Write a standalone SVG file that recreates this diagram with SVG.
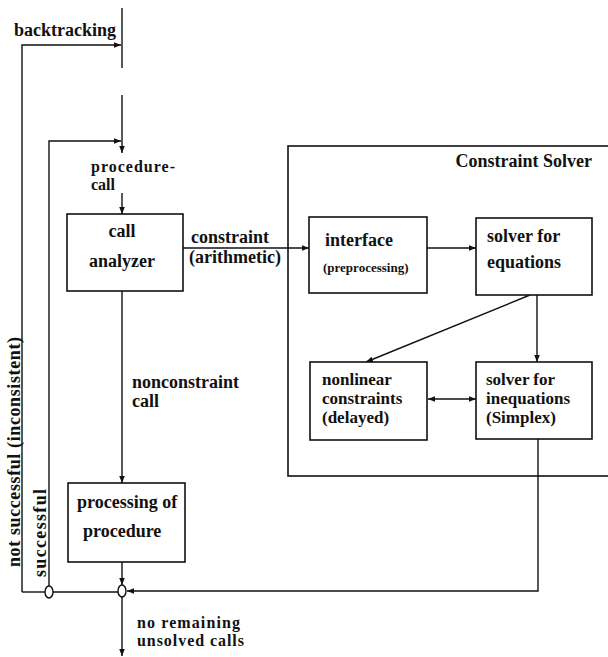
<svg xmlns="http://www.w3.org/2000/svg" width="608" height="657" viewBox="0 0 608 657">
<style>
  text { font-family: "Liberation Serif", "Times New Roman", serif; font-weight: bold; font-size: 18px; fill: #111; }
  .small { font-size: 13px; }
  .tight { font-size: 17px; }
  .tighter { font-size: 16px; }
  .box { fill: #fff; stroke: #111; stroke-width: 1.6; }
  .ln { fill: none; stroke: #111; stroke-width: 1.4; }
  .junc { fill: #fff; stroke: #111; stroke-width: 1.4; }
</style>
<defs>
  <marker id="ah" viewBox="0 0 10 10" refX="10" refY="5" markerWidth="7" markerHeight="7" markerUnits="userSpaceOnUse" orient="auto-start-reverse">
    <path d="M0,1 L10,5 L0,9 Z" fill="#111"/>
  </marker>
</defs>
<rect width="608" height="657" fill="#fff"/>

<g id="constraint-solver">
  <rect class="box" x="288" y="146" width="330" height="330"/>
  <text x="592" y="167" text-anchor="end">Constraint Solver</text>
</g>

<g id="connectors">
  <line class="ln" x1="122" y1="8" x2="122" y2="68"/>
  <polyline class="ln" points="22,592 22,45 121,45" marker-end="url(#ah)"/>
  <line class="ln" x1="122" y1="95" x2="122" y2="153" marker-end="url(#ah)"/>
  <polyline class="ln" points="49,586 49,141 121,141" marker-end="url(#ah)"/>
  <line class="ln" x1="122" y1="193" x2="122" y2="214" marker-end="url(#ah)"/>
  <line class="ln" x1="122" y1="291" x2="122" y2="483" marker-end="url(#ah)"/>
  <line class="ln" x1="183" y1="248" x2="309" y2="248" marker-end="url(#ah)"/>
  <line class="ln" x1="427" y1="248" x2="476" y2="248" marker-end="url(#ah)"/>
  <line class="ln" x1="530" y1="295" x2="366" y2="362" marker-end="url(#ah)"/>
  <line class="ln" x1="537" y1="295" x2="537" y2="362" marker-end="url(#ah)"/>
  <line class="ln" x1="428" y1="399" x2="476" y2="399" marker-start="url(#ah)" marker-end="url(#ah)"/>
  <polyline class="ln" points="538,439 538,591 127,591" marker-end="url(#ah)"/>
  <line class="ln" x1="122" y1="562" x2="122" y2="585" marker-end="url(#ah)"/>
  <line class="ln" x1="122" y1="597" x2="122" y2="656" marker-end="url(#ah)"/>
  <line class="ln" x1="22" y1="592" x2="45" y2="592"/>
  <line class="ln" x1="53" y1="592" x2="118" y2="592"/>
</g>

<g id="junction-left"><ellipse class="junc" cx="49" cy="592" rx="4" ry="6"/></g>
<g id="junction-main"><ellipse class="junc" cx="122" cy="591" rx="4" ry="6"/></g>

<g id="label-backtracking"><text x="14" y="36">backtracking</text></g>
<g id="label-procedure-call">
  <text class="tighter" x="91" y="172" textLength="84">procedure-</text>
  <text class="tighter" x="91" y="190">call</text>
</g>

<g id="call-analyzer">
  <rect class="box" x="67" y="214" width="116" height="77"/>
  <text x="122" y="237" text-anchor="middle">call</text>
  <text x="122" y="267" text-anchor="middle">analyzer</text>
</g>

<g id="label-constraint">
  <text x="191" y="243">constraint</text>
  <text x="189" y="263">(arithmetic)</text>
</g>

<g id="interface">
  <rect class="box" x="309" y="217" width="118" height="76"/>
  <text x="325" y="246">interface</text>
  <text class="small" x="323" y="272">(preprocessing)</text>
</g>

<g id="solver-equations">
  <rect class="box" x="476" y="218" width="116" height="77"/>
  <text x="487" y="242">solver for</text>
  <text x="487" y="268">equations</text>
</g>

<g id="nonlinear">
  <rect class="box" x="310" y="362" width="117" height="78"/>
  <text class="tight" x="322" y="385">nonlinear</text>
  <text class="tight" x="322" y="404">constraints</text>
  <text class="tight" x="322" y="423">(delayed)</text>
</g>

<g id="solver-inequations">
  <rect class="box" x="476" y="362" width="116" height="77"/>
  <text class="tight" x="486" y="385">solver for</text>
  <text class="tight" x="486" y="404">inequations</text>
  <text class="tight" x="486" y="423">(Simplex)</text>
</g>

<g id="label-nonconstraint">
  <text x="132" y="388">nonconstraint</text>
  <text x="132" y="407">call</text>
</g>

<g id="processing">
  <rect class="box" x="68" y="483" width="117" height="79"/>
  <text x="77" y="508">processing of</text>
  <text x="83" y="537">procedure</text>
</g>

<g id="label-not-successful">
  <text transform="translate(20,567) rotate(-90)" textLength="230">not successful  (inconsistent)</text>
</g>
<g id="label-successful">
  <text transform="translate(46,577) rotate(-90)" textLength="88">successful</text>
</g>

<g id="label-no-remaining">
  <text class="tighter" x="137" y="628" textLength="103">no remaining</text>
  <text class="tighter" x="137" y="646" textLength="107">unsolved calls</text>
</g>
</svg>
